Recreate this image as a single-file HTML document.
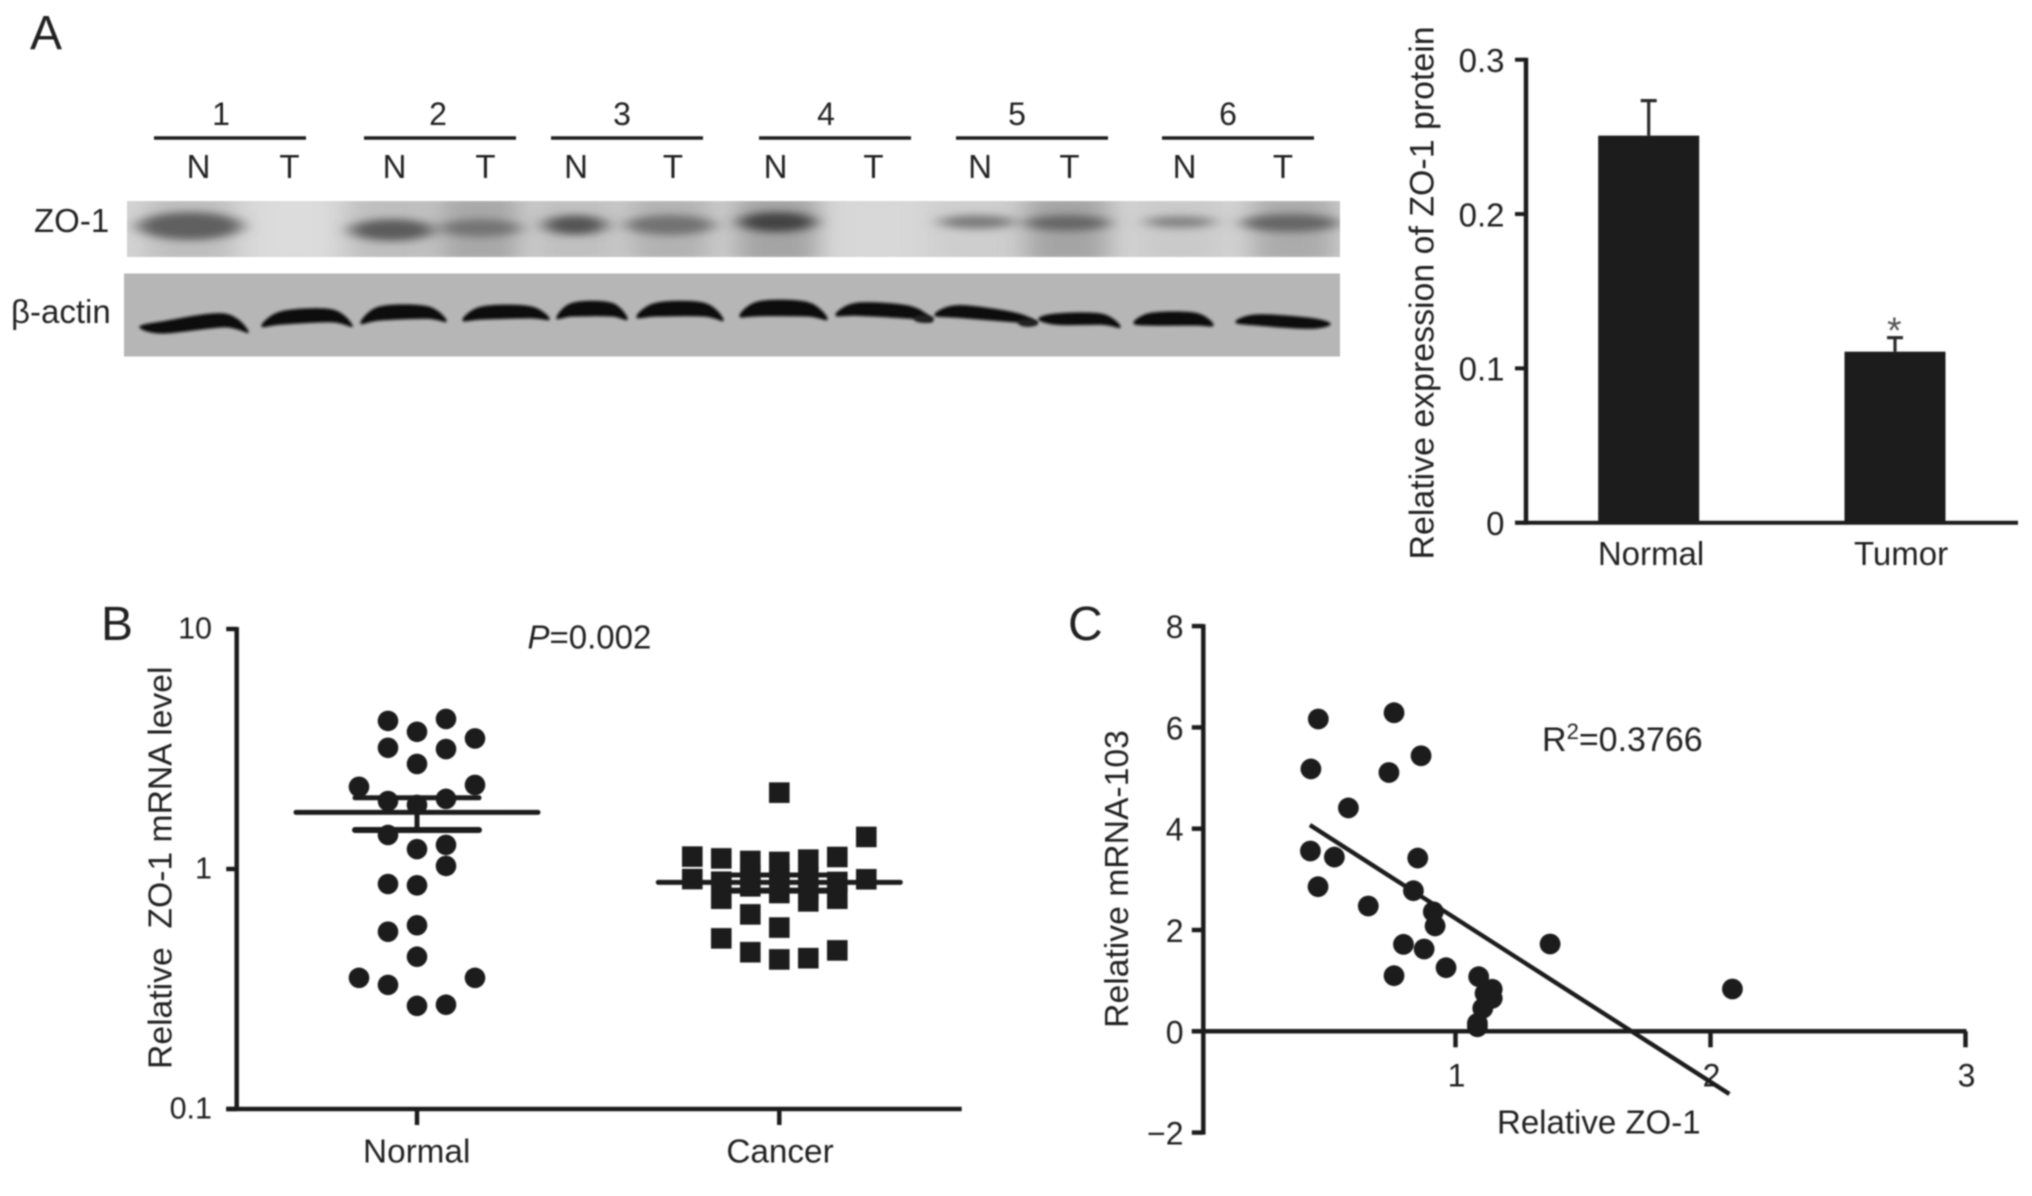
<!DOCTYPE html>
<html lang="en">
<head>
<meta charset="utf-8">
<title>ZO-1 expression figure</title>
<style>
html,body{margin:0;padding:0;background:#fff;width:2032px;height:1196px;overflow:hidden}
svg{display:block}
text{font-family:"Liberation Sans",sans-serif;fill:#232323}
.p{font-size:48px}
.l{font-size:33px}
</style>
</head>
<body>
<svg id="figure" xmlns="http://www.w3.org/2000/svg" width="2032" height="1196" viewBox="0 0 2032 1196">
  <defs>
    <filter id="soft" x="-2%" y="-2%" width="104%" height="104%"><feGaussianBlur stdDeviation="0.7"/></filter>
    <filter id="blur-band" x="-40%" y="-80%" width="180%" height="260%"><feGaussianBlur stdDeviation="9 4"/></filter>
    <filter id="blur-smear" x="-60%" y="-30%" width="220%" height="160%"><feGaussianBlur stdDeviation="14 5"/></filter>
    <filter id="blur-actin" x="-10%" y="-30%" width="120%" height="160%"><feGaussianBlur stdDeviation="1.2"/></filter>
    <clipPath id="zo-clip"><rect x="127" y="201" width="1213" height="56"/></clipPath>
    <clipPath id="actin-clip"><rect x="124" y="273.5" width="1216" height="83"/></clipPath>
  </defs>
  <g id="root" filter="url(#soft)">
    <text class="p" x="30" y="49">A</text>
    <text class="p" x="101" y="640">B</text>
    <text class="p" x="1068" y="640">C</text>

    <g id="blot">
      <rect x="127" y="201" width="1213" height="56" fill="#d4d4d4"/>
      <g id="zo-smears" clip-path="url(#zo-clip)"></g>
      <g id="zo-bands" clip-path="url(#zo-clip)"></g>
      <rect x="124" y="273.5" width="1216" height="83" fill="#b6b6b6"/>
      <g id="actin-bands" clip-path="url(#actin-clip)"></g>
      <g id="lanes"></g>
      <text class="l" x="34" y="232">ZO-1</text>
      <text class="l" x="11" y="323" font-size="32" style="font-family:'Liberation Sans','DejaVu Sans',sans-serif">β-actin</text>
    </g>

    <g id="chart-a"></g>
    <g id="chart-b"></g>
    <g id="chart-c"></g>
  </g>
</svg>
<script>
/* ---------- Panel A blot ---------- */
const laneNames = ["1", "2", "3", "4", "5", "6"];
const laneGroupStart = [154, 364, 551, 759, 956, 1162];
const laneGroupCentre = [221, 438, 622, 826, 1017, 1228];
const laneNormalCentre = [198.5, 394.5, 576, 775.5, 980, 1184.5];
const laneTumorCentre = [289.5, 485.5, 673, 873.5, 1069.5, 1283];
const zoBandX = [190, 392, 480, 575, 670, 777, 977, 1067, 1180, 1290];
const zoBandY = [226, 230, 228, 225, 225, 222, 222, 223, 222, 223];
const zoBandRx = [52, 42, 40, 31, 44, 38, 38, 42, 35, 48];
const zoBandRy = [14, 11, 9, 10, 10, 10, 7, 8, 6, 9];
const zoBandTone = ["#606060", "#5c5c5c", "#747474", "#545454", "#727272", "#424242", "#7c7c7c", "#666666", "#828282", "#666666"];
const zoSmearX = [190, 295, 392, 480, 575, 670, 777, 878, 977, 1067, 1180, 1294];
const zoSmearTone = ["#bebebe", "#dcdcdc", "#bebebe", "#a8a8a8", "#c0c0c0", "#b2b2b2", "#a4a4a4", "#d8d8d8", "#cecece", "#a4a4a4", "#cacaca", "#ababab"];
const actinLeftX = [140, 262, 361, 463, 557, 637, 740, 836, 935, 1039, 1134, 1236];
const actinRightX = [248, 352, 446, 549, 627, 723, 827, 932, 1037, 1120, 1213, 1330];
const actinLeftY = [327, 326, 323, 320, 318, 317, 316, 315, 315, 319, 323, 322];
const actinRightY = [332, 326, 321, 319, 319, 320, 319, 321, 323, 327, 325, 324];
const actinTopA = [321.7, 311.7, 307, 307, 303.3, 303.3, 301.7, 303.3, 305.7, 314, 313.3, 315];
const actinTopB = [314, 310, 306.7, 306.7, 303.3, 303.3, 302.7, 306.7, 313, 314.3, 313.3, 318.3];
const actinUnderA = [333, 324, 320, 319, 316, 316, 315.7, 315.3, 317.3, 324.3, 325, 325];
const actinUnderB = [326.7, 321.7, 318.3, 317.7, 316, 316, 316, 318.3, 321.7, 324.3, 325, 328.3];
const actinJoinX = [924, 1028];
const actinJoinY = [319, 323];

/* ---------- Panel A bars ---------- */
const barCategories = ["Normal", "Tumor"];
const barValues = [0.2508, 0.1108];
const barErrors = [0.0227, 0.0091];
const barTicks = [0, 0.1, 0.2, 0.3];
const barTickLabels = ["0", "0.1", "0.2", "0.3"];

/* ---------- Panel B dots ---------- */
const dotCategories = ["Normal", "Cancer"];
const dotTicks = [0.1, 1, 10];
const dotTickLabels = ["0.1", "1", "10"];
const normalValues = [4.14, 4.22, 3.73, 3.50, 3.20, 3.16, 2.74, 2.20, 2.24, 1.92, 1.96, 1.85, 1.386, 1.21, 1.26, 1.03, 0.866, 0.855, 0.583, 0.548, 0.431, 0.352, 0.352, 0.329, 0.269, 0.272];
const normalColumn = [-1, 1, 0, 2, -1, 1, 0, -2, 2, -1, 1, 0, -1, 0, 1, 1, -1, 0, 0, -1, 0, -2, 2, -1, 0, 1];
const cancerValues = [2.08, 1.36, 1.126, 1.107, 1.08, 1.07, 1.094, 1.122, 0.908, 0.906, 0.885, 0.752, 0.944, 0.847, 0.944, 0.872, 0.794, 0.929, 0.818, 0.733, 0.883, 0.752, 0.647, 0.57, 0.514, 0.45, 0.42, 0.425, 0.458];
const cancerColumn = [0, 3, -3, -2, -1, 0, 1, 2, -3, 3, -2, -2, -1, -1, 0, 0, 0, 1, 1, 1, 2, 2, -1, 0, -2, -1, 0, 1, 2];
const dotMeans = [1.722, 0.88];
const dotUpper = [1.98, 0.944];
const dotLower = [1.454, 0.813];

/* ---------- Panel C scatter ---------- */
const scatterX = [0.46, 0.757, 0.863, 0.737, 0.431, 0.578, 0.429, 0.523, 0.85, 0.459, 0.833, 0.656, 0.911, 0.918, 0.794, 0.875, 1.369, 0.961, 0.757, 1.089, 2.084, 1.142, 1.114, 1.142, 1.105, 1.084, 1.084];
const scatterY = [6.166, 6.29, 5.44, 5.11, 5.18, 4.41, 3.56, 3.44, 3.42, 2.855, 2.776, 2.474, 2.36, 2.08, 1.717, 1.625, 1.724, 1.256, 1.098, 1.078, 0.835, 0.83, 0.75, 0.651, 0.454, 0.158, 0.09];
const fitSlope = [-3.229];
const fitIntercept = [5.452];
const fitRange = [0.427, 2.072];
const scatterXTicks = [1, 2, 3];
const scatterYTicks = [-2, 0, 2, 4, 6, 8];
const scatterYLabels = ["\u22122", "0", "2", "4", "6", "8"];

const NS = "http://www.w3.org/2000/svg";
function make(parent, tag, props, content) {
  const el = document.createElementNS(NS, tag);
  for (const k in props) el.setAttribute(k, props[k]);
  if (content !== undefined) el.textContent = content;
  parent.appendChild(el);
  return el;
}
function segment(parent, x1, y1, x2, y2, width, colour, cap) {
  return make(parent, "line", { x1, y1, x2, y2, stroke: colour || "#1f1f1f", "stroke-width": width || 4.5, "stroke-linecap": cap || "butt" });
}
function closedSpline(pts) {
  const n = pts.length;
  let d = "M" + pts[0][0] + " " + pts[0][1];
  for (let i = 0; i < n; i++) {
    const p0 = pts[(i - 1 + n) % n], p1 = pts[i], p2 = pts[(i + 1) % n], p3 = pts[(i + 2) % n];
    d += " C" + (p1[0] + (p2[0] - p0[0]) / 6) + " " + (p1[1] + (p2[1] - p0[1]) / 6) + " " +
         (p2[0] - (p3[0] - p1[0]) / 6) + " " + (p2[1] - (p3[1] - p1[1]) / 6) + " " + p2[0] + " " + p2[1];
  }
  return d + "Z";
}

/* Blot */
const zoSmears = document.getElementById("zo-smears");
const zoBands = document.getElementById("zo-bands");
const actinGroup = document.getElementById("actin-bands");
const lanes = document.getElementById("lanes");
zoSmearX.forEach((x, i) => {
  const smear = make(zoSmears, "rect", { x: x - 42, y: 196, width: 84, height: 66, fill: zoSmearTone[i], filter: "url(#blur-smear)" });
  
  
});
zoBandX.forEach((x, i) => {
  const band = make(zoBands, "ellipse", { cx: x, cy: zoBandY[i], rx: zoBandRx[i], ry: zoBandRy[i], fill: zoBandTone[i], filter: "url(#blur-band)" });
  
  
});
actinLeftX.forEach((x0, i) => {
  const x1 = actinRightX[i], w = x1 - x0, qa = x0 + 0.22 * w, qb = x0 + 0.78 * w;
  const d = closedSpline([[x0, actinLeftY[i]], [qa, actinTopA[i]], [qb, actinTopB[i]], [x1, actinRightY[i]], [qb, actinUnderB[i]], [qa, actinUnderA[i]]]);
  const band = make(actinGroup, "path", { d, fill: "#111", stroke: "#111", "stroke-width": 1.5, "stroke-linejoin": "round", filter: "url(#blur-actin)" });
  
  
});
actinJoinX.forEach((x, i) => {
  const join = make(actinGroup, "ellipse", { cx: x, cy: actinJoinY[i], rx: 10, ry: 4, fill: "#222", filter: "url(#blur-actin)" });
  
  
});
laneNames.forEach((name, i) => {
  const title = make(lanes, "text", { class: "l", x: laneGroupCentre[i], y: 125, "text-anchor": "middle", style: "font-size:32px" }, name);
  
  
  const rule = segment(lanes, laneGroupStart[i], 138, laneGroupStart[i] + 152, 138, 3.5);
  
  
  const n = make(lanes, "text", { class: "l", x: laneNormalCentre[i], y: 178, "text-anchor": "middle" }, "N");
  
  
  const t = make(lanes, "text", { class: "l", x: laneTumorCentre[i], y: 178, "text-anchor": "middle" }, "T");
  
  
});

/* Panel A bar chart */
(function () {
  const g = document.getElementById("chart-a");
  const axisX = 1526, top = 59.7, zero = 522.7, right = 2018, max = 0.3;
  const y = v => zero - (v / max) * (zero - top);
  const xCentres = [1648.7, 1895], barW = 101;
  barCategories.forEach((c, i) => {
    const cx = xCentres[i];
    const err = segment(g, cx, y(barValues[i] + barErrors[i]), cx, y(barValues[i]), 3.2, "#2c2c2c");
    
    
    const cap = segment(g, cx - 8, y(barValues[i] + barErrors[i]), cx + 8, y(barValues[i] + barErrors[i]), 3.2, "#2c2c2c");
    
    
    const bar = make(g, "rect", { x: cx - barW / 2, y: y(barValues[i]), width: barW, height: zero - y(barValues[i]), fill: "#1a1a1a" });
    
    
  });
  const xLabelCentres = [1651, 1901];
  barCategories.forEach((c, i) => {
    const label = make(g, "text", { class: "l", x: xLabelCentres[i], y: 565, "text-anchor": "middle" }, c);
    
    
  });
  const yAxis = segment(g, axisX, top - 2, axisX, zero + 2);
  
  
  const xAxis = segment(g, axisX - 11, zero, right, zero, 4);
  
  
  barTicks.forEach((t, i) => {
    const tick = segment(g, axisX - 11, y(t), axisX, y(t), 4);
    
    
    const label = make(g, "text", { class: "l", x: 1504.5, y: y(t) + 12.3, "text-anchor": "end" }, barTickLabels[i]);
    
    
  });
  const title = make(g, "text", { x: 0, y: 0, "text-anchor": "start", transform: "translate(1433.5 559.5) rotate(-90)", style: "font-size:33.9px" }, "Relative expression of ZO-1 protein");
  
  
  const star = make(g, "text", { x: 1894.3, y: 343, "text-anchor": "middle", style: "font-size:37px;fill:#555" }, "*");
  
  
})();

/* Panel B dot plot */
(function () {
  const g = document.getElementById("chart-b");
  const axisX = 236.7, right = 961.7, top = 629, base = 1109;
  const y = v => base - (Math.log10(v) + 1) * (base - top) / 2;
  const centres = [417, 779.3], step = 29;
  const labelCentres = [416.7, 780];
  normalValues.forEach((v, i) => {
    const c = make(g, "circle", { cx: centres[0] + normalColumn[i] * step, cy: y(v), r: 10.3, fill: "#1f1f1f" });
    
    
  });
  cancerValues.forEach((v, i) => {
    const s = make(g, "rect", { x: centres[1] + cancerColumn[i] * step - 10.3, y: y(v) - 10.3, width: 20.6, height: 20.6, fill: "#1f1f1f" });
    
    
  });
  dotCategories.forEach((c, i) => {
    const cx = centres[i];
    const mean = segment(g, cx - 121, y(dotMeans[i]), cx + 121, y(dotMeans[i]), 5, "#1f1f1f", "round");
    
    
    const upper = segment(g, cx - 62, y(dotUpper[i]), cx + 62, y(dotUpper[i]), 5, "#1f1f1f", "round");
    
    
    const lower = segment(g, cx - 62, y(dotLower[i]), cx + 62, y(dotLower[i]), 6, "#1f1f1f", "round");
    
    
    const stem = segment(g, cx, y(dotUpper[i]), cx, y(dotLower[i]), 5);
    
    
    const tick = segment(g, cx, base, cx, base + 16);
    
    
    const label = make(g, "text", { x: labelCentres[i], y: 1162.5, "text-anchor": "middle", style: "font-size:33.3px" }, c);
    
    
  });
  const yAxis = segment(g, axisX, top - 2, axisX, base + 2);
  
  
  const xAxis = segment(g, axisX - 10.5, base, right, base);
  
  
  dotTicks.forEach((t, i) => {
    const tick = segment(g, axisX - 10.5, y(t), axisX, y(t));
    
    
    const label = make(g, "text", { x: 212, y: y(t) + 9.5, "text-anchor": "end", style: "font-size:30.5px" }, dotTickLabels[i]);
    
    
  });
  const title = make(g, "text", { x: 0, y: 0, "text-anchor": "start", "xml:space": "preserve", transform: "translate(171.7 1069) rotate(-90)", style: "font-size:33.7px;white-space:pre" }, "Relative  ZO-1 mRNA level");
  
  
  const p = make(g, "text", { x: 527.5, y: 648.5, style: "font-size:33px" });
  
  
  const pItalic = make(p, "tspan", { "font-style": "italic" }, "P");
  
  
  const pValue = make(p, "tspan", {}, "=0.002");
  
  
})();

/* Panel C scatter */
(function () {
  const g = document.getElementById("chart-c");
  const axisX = 1203.3, originX = 1200.5, unitX = 255, zero = 1031.3, unitY = 50.65;
  const x = v => originX + v * unitX;
  const y = v => zero - v * unitY;
  scatterX.forEach((v, i) => {
    const c = make(g, "circle", { cx: x(v) + 0.5, cy: y(scatterY[i]), r: 10.4, fill: "#1f1f1f" });
    
    
  });
  const xAxis = segment(g, axisX - 11.5, zero, x(3) + 1, zero);
  
  
  const yAxis = segment(g, axisX, y(8) - 2, axisX, y(-2) + 2);
  
  
  scatterXTicks.forEach(t => {
    const tick = segment(g, x(t), zero, x(t), zero + 16);
    
    
    const label = make(g, "text", { x: x(t) + 1, y: 1086.7, "text-anchor": "middle", style: "font-size:32px" }, String(t));
    
    
  });
  scatterYTicks.forEach((t, i) => {
    const tick = segment(g, axisX - 11.5, y(t), axisX, y(t));
    
    
    const label = make(g, "text", { x: 1183.5, y: y(t) + 12, "text-anchor": "end", style: "font-size:32px" }, scatterYLabels[i]);
    
    
  });
  const fit = segment(g, x(fitRange[0]) + 0.5, y(fitSlope[0] * fitRange[0] + fitIntercept[0]), x(fitRange[1]) + 0.5, y(fitSlope[0] * fitRange[1] + fitIntercept[0]), 4.4);
  
  
  const xTitle = make(g, "text", { x: 1497, y: 1133.3, style: "font-size:33px" }, "Relative ZO-1");
  
  
  const yTitle = make(g, "text", { x: 0, y: 0, "text-anchor": "middle", transform: "translate(1128 879) rotate(-90)", style: "font-size:33.7px" }, "Relative mRNA-103");
  
  
  const r = make(g, "text", { x: 1542, y: 751, style: "font-size:34px" });
  
  
  const rBase = make(r, "tspan", {}, "R");
  
  
  const rSup = make(r, "tspan", { dy: -12, style: "font-size:22px" }, "2");
  
  
  const rVal = make(r, "tspan", { dy: 12 }, "=0.3766");
  
  
})();
</script>
</body>
</html>
